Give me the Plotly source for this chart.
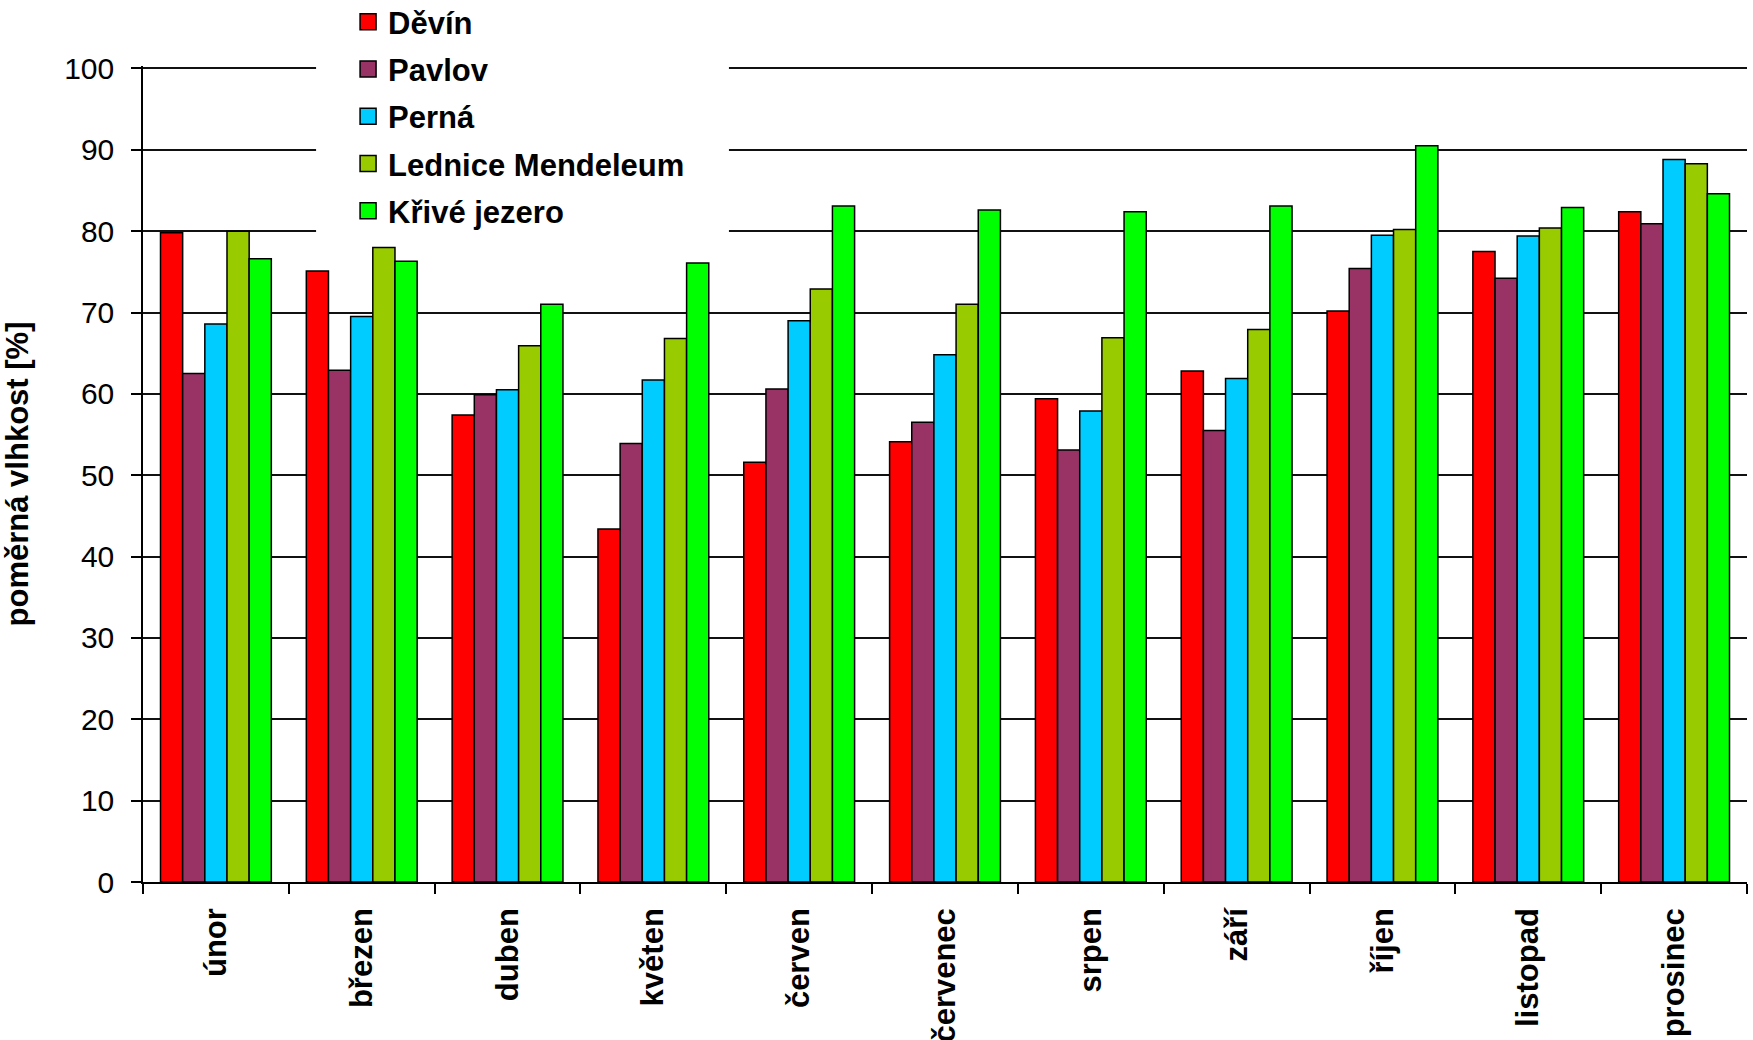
import plotly.graph_objects as go

months = ["únor", "březen", "duben", "květen", "červen", "červenec",
          "srpen", "září", "říjen", "listopad", "prosinec"]

devin = [79.8, 75.1, 57.4, 43.4, 51.6, 54.1, 59.4, 62.8, 70.2, 77.5, 82.4]
pavlov = [62.5, 62.9, 59.9, 53.9, 60.6, 56.5, 53.1, 55.5, 75.4, 74.2, 80.9]
perna = [68.6, 69.5, 60.5, 61.7, 69.0, 64.8, 57.9, 61.9, 79.5, 79.4, 88.8]
lednice = [80.0, 78.0, 65.9, 66.8, 72.9, 71.0, 66.9, 67.9, 80.2, 80.4, 88.3]
krive = [76.6, 76.3, 71.0, 76.1, 83.1, 82.6, 82.4, 83.1, 90.5, 82.9, 84.6]

series_names = ["Děvín", "Pavlov", "Perná", "Lednice Mendeleum", "Křivé jezero"]
series_values = [devin, pavlov, perna, lednice, krive]
series_colors = ["#FF0000", "#993366", "#00CCFF", "#99CC00", "#00FF00"]

y_ticks = [0, 10, 20, 30, 40, 50, 60, 70, 80, 90, 100]

FONT = "Liberation Sans, Arial, sans-serif"

fig = go.Figure()
for i, (name, vals, col) in enumerate(zip(series_names, series_values, series_colors)):
    fig.add_trace(go.Bar(
        x=months, y=vals, name=name,
        marker=dict(color=col, line=dict(color="black", width=1.5)),
        showlegend=False,
    ))
    fig.add_trace(go.Scatter(
        x=[None], y=[None], mode="markers", name=name,
        legendgroup=f"g{i}",
        marker=dict(symbol="square", size=20, color=col,
                    line=dict(color="black", width=1.5)),
        showlegend=True,
    ))

# white legend background area that hides the gridlines behind the legend
fig.add_shape(type="rect", xref="paper", yref="paper",
              x0=0.1079, x1=0.3653, y0=0.787, y1=1.02,
              fillcolor="white", line=dict(width=0), layer="above")

fig.update_layout(
    width=1753, height=1040, autosize=False,
    margin=dict(l=143, r=6, t=66, b=158, autoexpand=False),
    paper_bgcolor="white", plot_bgcolor="white",
    barmode="group", bargap=0.24, bargroupgap=0,
    font=dict(family=FONT, color="black", size=30),
    legend=dict(
        x=0.1079, xanchor="left", y=1.087, yanchor="top",
        bgcolor="rgba(255,255,255,0)", borderwidth=0,
        font=dict(family=FONT, size=31, color="black", weight="bold"),
        tracegroupgap=4,
        itemwidth=30,
        indentation=32,
    ),
    xaxis=dict(
        type="category", categoryorder="array", categoryarray=months,
        tickangle=-90, tickson="boundaries", automargin=False,
        ticks="outside", ticklen=10, tickwidth=1.5, tickcolor="black",
        showline=True, linecolor="black", linewidth=1.5,
        tickfont=dict(family=FONT, size=31, color="black", weight="bold"),
        showgrid=False, ticklabelstandoff=12,
    ),
    yaxis=dict(
        range=[0, 100.3], tickvals=y_ticks, ticktext=[str(v) for v in y_ticks],
        automargin=False,
        ticks="outside", ticklen=10, tickwidth=1.5, tickcolor="black",
        showline=True, linecolor="black", linewidth=1.5,
        showgrid=True, gridcolor="#111111", gridwidth=1.7,
        zeroline=False,
        tickfont=dict(family=FONT, size=30, color="black"),
        ticklabelstandoff=11,
        title=dict(text="poměrná vlhkost [%]", standoff=26,
                   font=dict(family=FONT, size=31, color="black", weight="bold")),
    ),
)

fig.write_html("out.html", config={"displayModeBar": False},
               post_script="document.body.style.margin='0';")
